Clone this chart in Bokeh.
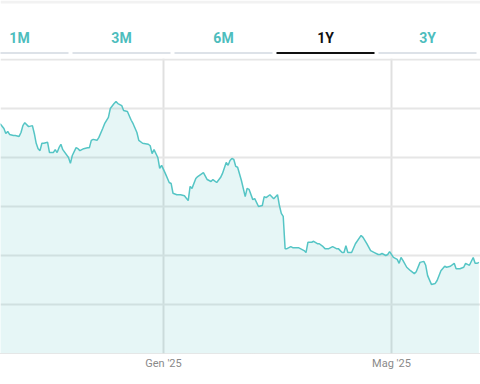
import pandas as pd
from bokeh.plotting import figure
from bokeh.models import Range1d, FixedTicker, ColumnDataSource, Grid
from bokeh.layouts import column
from bokeh.embed import file_html
from bokeh.resources import INLINE
from bokeh.core.properties import value

# ---------------- data ----------------
dates = [
    "2024-10-07", "2024-10-09", "2024-10-10", "2024-10-11", "2024-10-12", "2024-10-14", "2024-10-15",
    "2024-10-17", "2024-10-18", "2024-10-19", "2024-10-20", "2024-10-22", "2024-10-24", "2024-10-25",
    "2024-10-26", "2024-10-27", "2024-10-28", "2024-10-29", "2024-10-30", "2024-11-01", "2024-11-02",
    "2024-11-04", "2024-11-05", "2024-11-06", "2024-11-07", "2024-11-08", "2024-11-09", "2024-11-12",
    "2024-11-13", "2024-11-14", "2024-11-16", "2024-11-17", "2024-11-18", "2024-11-20", "2024-11-22",
    "2024-11-23", "2024-11-24", "2024-11-25", "2024-11-27", "2024-11-28", "2024-11-30", "2024-12-01",
    "2024-12-03", "2024-12-04", "2024-12-06", "2024-12-07", "2024-12-08", "2024-12-10", "2024-12-11",
    "2024-12-13", "2024-12-15", "2024-12-16", "2024-12-18", "2024-12-19", "2024-12-21", "2024-12-24",
    "2024-12-25", "2024-12-26", "2024-12-27", "2024-12-29", "2024-12-30", "2024-12-31",
    "2025-01-02", "2025-01-04", "2025-01-05", "2025-01-06", "2025-01-08", "2025-01-10", "2025-01-12",
    "2025-01-14", "2025-01-15", "2025-01-16", "2025-01-18", "2025-01-19", "2025-01-22", "2025-01-24",
    "2025-01-26", "2025-01-27", "2025-01-29", "2025-01-31", "2025-02-01", "2025-02-03", "2025-02-04",
    "2025-02-05", "2025-02-06", "2025-02-07", "2025-02-08", "2025-02-09", "2025-02-11", "2025-02-13",
    "2025-02-14", "2025-02-15", "2025-02-17", "2025-02-18", "2025-02-20", "2025-02-22", "2025-02-23",
    "2025-02-24", "2025-02-26", "2025-02-27", "2025-02-28", "2025-03-02", "2025-03-03", "2025-03-04",
    "2025-03-05", "2025-03-06", "2025-03-07", "2025-03-09", "2025-03-10", "2025-03-13", "2025-03-14",
    "2025-03-16", "2025-03-17", "2025-03-18", "2025-03-20", "2025-03-21", "2025-03-23", "2025-03-24",
    "2025-03-26", "2025-03-27", "2025-03-29", "2025-03-30", "2025-03-31", "2025-04-02", "2025-04-03",
    "2025-04-05", "2025-04-06", "2025-04-07", "2025-04-08", "2025-04-10", "2025-04-12", "2025-04-15",
    "2025-04-16", "2025-04-18", "2025-04-20", "2025-04-22", "2025-04-24", "2025-04-25", "2025-04-26",
    "2025-04-28", "2025-04-29", "2025-04-30", "2025-05-02", "2025-05-03", "2025-05-04", "2025-05-05",
    "2025-05-06", "2025-05-07", "2025-05-09", "2025-05-11", "2025-05-13", "2025-05-14", "2025-05-16",
    "2025-05-18", "2025-05-19", "2025-05-20", "2025-05-22", "2025-05-24", "2025-05-25", "2025-05-27",
    "2025-05-29", "2025-05-30", "2025-06-01", "2025-06-03", "2025-06-04", "2025-06-06", "2025-06-08",
    "2025-06-09", "2025-06-11", "2025-06-13", "2025-06-14", "2025-06-15", "2025-06-16",
]
prices = [
    14.69, 14.59, 14.49, 14.53, 14.47, 14.45, 14.45,
    14.43, 14.51, 14.65, 14.71, 14.63, 14.65, 14.49,
    14.29, 14.18, 14.14, 14.29, 14.29, 14.31, 14.10,
    14.10, 14.16, 14.10, 14.20, 14.27, 14.16, 14.00,
    13.88, 14.04, 14.20, 14.18, 14.14, 14.18, 14.20,
    14.20, 14.35, 14.37, 14.35, 14.41, 14.59, 14.69,
    14.82, 15.00, 15.10, 15.14, 15.10, 15.06, 14.96,
    14.94, 14.76, 14.69, 14.51, 14.35, 14.29, 14.27,
    14.24, 14.08, 14.16, 14.00, 13.78, 13.84,
    13.67, 13.49, 13.47, 13.27, 13.24, 13.24, 13.22,
    13.12, 13.41, 13.37, 13.57, 13.61, 13.69, 13.55,
    13.51, 13.55, 13.49, 13.59, 13.67, 13.90, 13.84,
    13.94, 13.98, 13.96, 13.82, 13.80, 13.53, 13.20,
    13.37, 13.35, 13.14, 13.16, 13.00, 13.02, 13.20,
    13.18, 13.24, 13.20, 13.16, 13.24, 13.02, 12.86,
    12.80, 12.14, 12.14, 12.18, 12.16, 12.16, 12.14,
    12.10, 12.06, 12.27, 12.27, 12.29, 12.24, 12.24,
    12.18, 12.14, 12.14, 12.16, 12.18, 12.14, 12.14,
    12.06, 12.06, 12.20, 12.06, 12.06, 12.24, 12.41,
    12.37, 12.24, 12.10, 12.06, 12.02, 12.02, 12.04,
    12.00, 12.02, 12.08, 11.96, 11.94, 11.92, 11.84,
    11.96, 11.90, 11.76, 11.69, 11.63, 11.67, 11.86,
    11.88, 11.80, 11.59, 11.41, 11.43, 11.49, 11.69,
    11.78, 11.76, 11.78, 11.84, 11.73, 11.73, 11.76,
    11.84, 11.80, 11.96, 11.84, 11.84, 11.86,
]
tab_labels = ["1M", "3M", "6M", "1Y", "3Y"]
active_tab = "1Y"
tick_dates = ["2025-01-01", "2025-05-01"]
tick_labels = ["Gen '25", "Mag '25"]
grid_values = [10, 11, 12, 13, 14, 15, 16]
x_start, x_end = "2024-10-07 05:00", "2025-06-16 20:00"
y_start, y_end = 10.0, 16.02

TEAL = "#55c5c5"
TAB_TEAL = "#4dbdbd"
FONT = "Roboto"

# ---------------- tabs bar ----------------
tabs = figure(width=480, height=58, x_range=Range1d(0, 480), y_range=Range1d(58, 0),
              x_axis_location=None, y_axis_location=None, output_backend="svg",
              toolbar_location=None, min_border=0, outline_line_color=None)
tabs.grid.visible = False
tab_w, tab_gap, tab_off = 102, 4, -30
lefts = [tab_off + tab_w * i for i in range(len(tab_labels))]
rights = [l + tab_w - tab_gap for l in lefts]
centers = [(l + r) / 2 for l, r in zip(lefts, rights)]
is_active = [t == active_tab for t in tab_labels]
tabs.quad(left=0, right=480, top=0, bottom=3, fill_color="#f2f2f2", line_color=None)
tabs.segment(x0=lefts, x1=rights, y0=[52.5] * 5, y1=[52.5] * 5,
             line_color=["#111111" if a else "#dde2e8" for a in is_active], line_width=2)
tabs.text(x=centers, y=[37] * 5, text=tab_labels, text_align="center", text_baseline="middle",
          text_font=value(FONT), text_font_size="14px", text_font_style="bold",
          text_color=["#111111" if a else TAB_TEAL for a in is_active])

# ---------------- chart ----------------
src = ColumnDataSource(dict(date=pd.to_datetime(dates), price=prices))
p = figure(width=480, height=326, x_axis_type="datetime",
           x_range=Range1d(pd.Timestamp(x_start), pd.Timestamp(x_end)),
           y_range=Range1d(y_start, y_end), y_axis_location=None,
           output_backend="svg", toolbar_location=None,
           min_border_left=0, min_border_right=0, min_border_top=0, min_border_bottom=31,
           outline_line_color=None)
p.ygrid.visible = False
p.add_layout(Grid(dimension=1, ticker=FixedTicker(ticks=grid_values),
                  grid_line_color="#e6e6e6", grid_line_width=2), "center")

tick_ms = [pd.Timestamp(d).value // 10**6 for d in tick_dates]
p.xaxis.ticker = FixedTicker(ticks=tick_ms)
p.xaxis.major_label_overrides = {ms: lab for ms, lab in zip(tick_ms, tick_labels)}
p.xaxis.major_tick_line_color = None
p.xaxis.minor_tick_line_color = None
p.xaxis.major_tick_out = 0
p.xaxis.minor_tick_out = 0
p.xaxis.axis_line_color = "#d0d0d0"
p.xaxis.axis_line_dash = "1 1"
p.xaxis.major_label_text_font = FONT
p.xaxis.major_label_text_font_size = "11px"
p.xaxis.major_label_text_color = "#8a8a8a"
p.xaxis.major_label_standoff = 3
p.xgrid.grid_line_color = "#e0e0e0"
p.xgrid.grid_line_width = 2

p.varea(x="date", y1=y_start, y2="price", source=src, fill_color=TEAL, fill_alpha=0.15)
p.line(x="date", y="price", source=src, line_color=TEAL, line_width=1.5)

layout = column(tabs, p, spacing=0)
open("out.html", "w").write(file_html(layout, INLINE))
